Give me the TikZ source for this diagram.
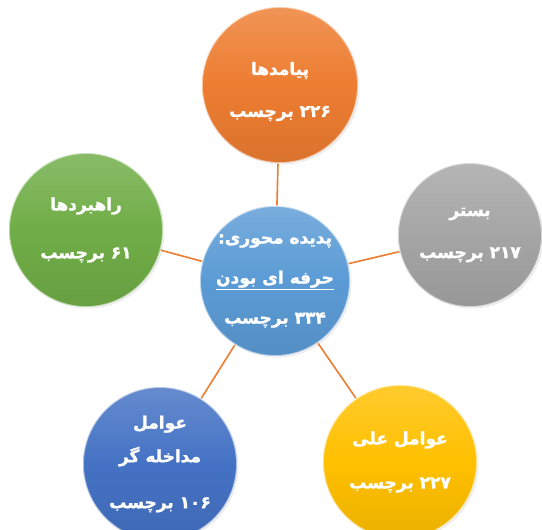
\documentclass[tikz,border=0pt]{standalone}
\usepackage{fontspec}
\newfontfamily\fa[Script=Arabic, BoldFont={DejaVu Sans Bold}, BoldFeatures={FakeBold=1.5}]{DejaVu Sans}
\TeXXeTstate=1
\usetikzlibrary{backgrounds,shadows}
\definecolor{corange}{RGB}{237,125,49}
\definecolor{cgreen}{RGB}{112,173,71}
\definecolor{cgray}{RGB}{165,165,165}
\definecolor{cyellow}{RGB}{255,192,0}
\definecolor{cblue}{RGB}{68,114,196}
\definecolor{clblue}{RGB}{91,155,213}
\tikzset{
  bubble/.style={circle, inner sep=0pt, text=white, align=center,
    font=\fa\bfseries\fontsize{17}{19}\selectfont,
    drop shadow={opacity=0.18, shadow xshift=1.5pt, shadow yshift=-1.5pt},
    postaction={draw=white, draw opacity=0.55, line width=1.8pt}},
  tint/.style={top color=#1!82!white, bottom color=#1!92!black, middle color=#1},
  conn/.style={draw=corange, line width=1.6pt}
}
\begin{document}
\begin{tikzpicture}[x=1pt,y=-1pt]
\useasboundingbox (0,0) rectangle (542,530);
\node[bubble, tint=clblue, minimum size=150pt] (C) at (275,281)
  {\beginR پدیده محوری:\endR\\[21pt]
   $\underline{\hbox{\beginR حرفه ای بودن\endR}}$\\[21pt]
   \beginR ۳۳۴ برچسب\endR};
\node[bubble, tint=corange, minimum size=156pt] (P) at (280,85)
  {\rule{0pt}{26pt}\beginR پیامدها\endR\\[23pt]\beginR ۲۲۶ برچسب\endR};
\node[bubble, tint=cgray, minimum size=144pt] (B) at (470,235)
  {\beginR بستر\endR\\[23pt]\beginR ۲۱۷ برچسب\endR};
\node[bubble, tint=cgreen, minimum size=154pt] (R) at (86,230)
  {\beginR راهبردها\endR\\[29pt]\beginR ۶۱ برچسب\endR};
\node[bubble, tint=cblue, minimum size=154pt] (M) at (160,464)
  {\beginR عوامل\endR\\[13pt]\beginR مداخله گر\endR\\[27pt]\beginR ۱۰۶ برچسب\endR};
\node[bubble, tint=cyellow, minimum size=154pt] (A) at (400,462)
  {\beginR عوامل علی\endR\\[25pt]\beginR ۲۲۷ برچسب\endR};
\begin{pgfonlayer}{background}
\draw[conn] (C.center) -- (P.center);
\draw[conn] (C.center) -- (B.center);
\draw[conn] (C.center) -- (R.center);
\draw[conn] (C.center) -- (M.center);
\draw[conn] (C.center) -- (A.center);
\end{pgfonlayer}
\end{tikzpicture}
\end{document}
